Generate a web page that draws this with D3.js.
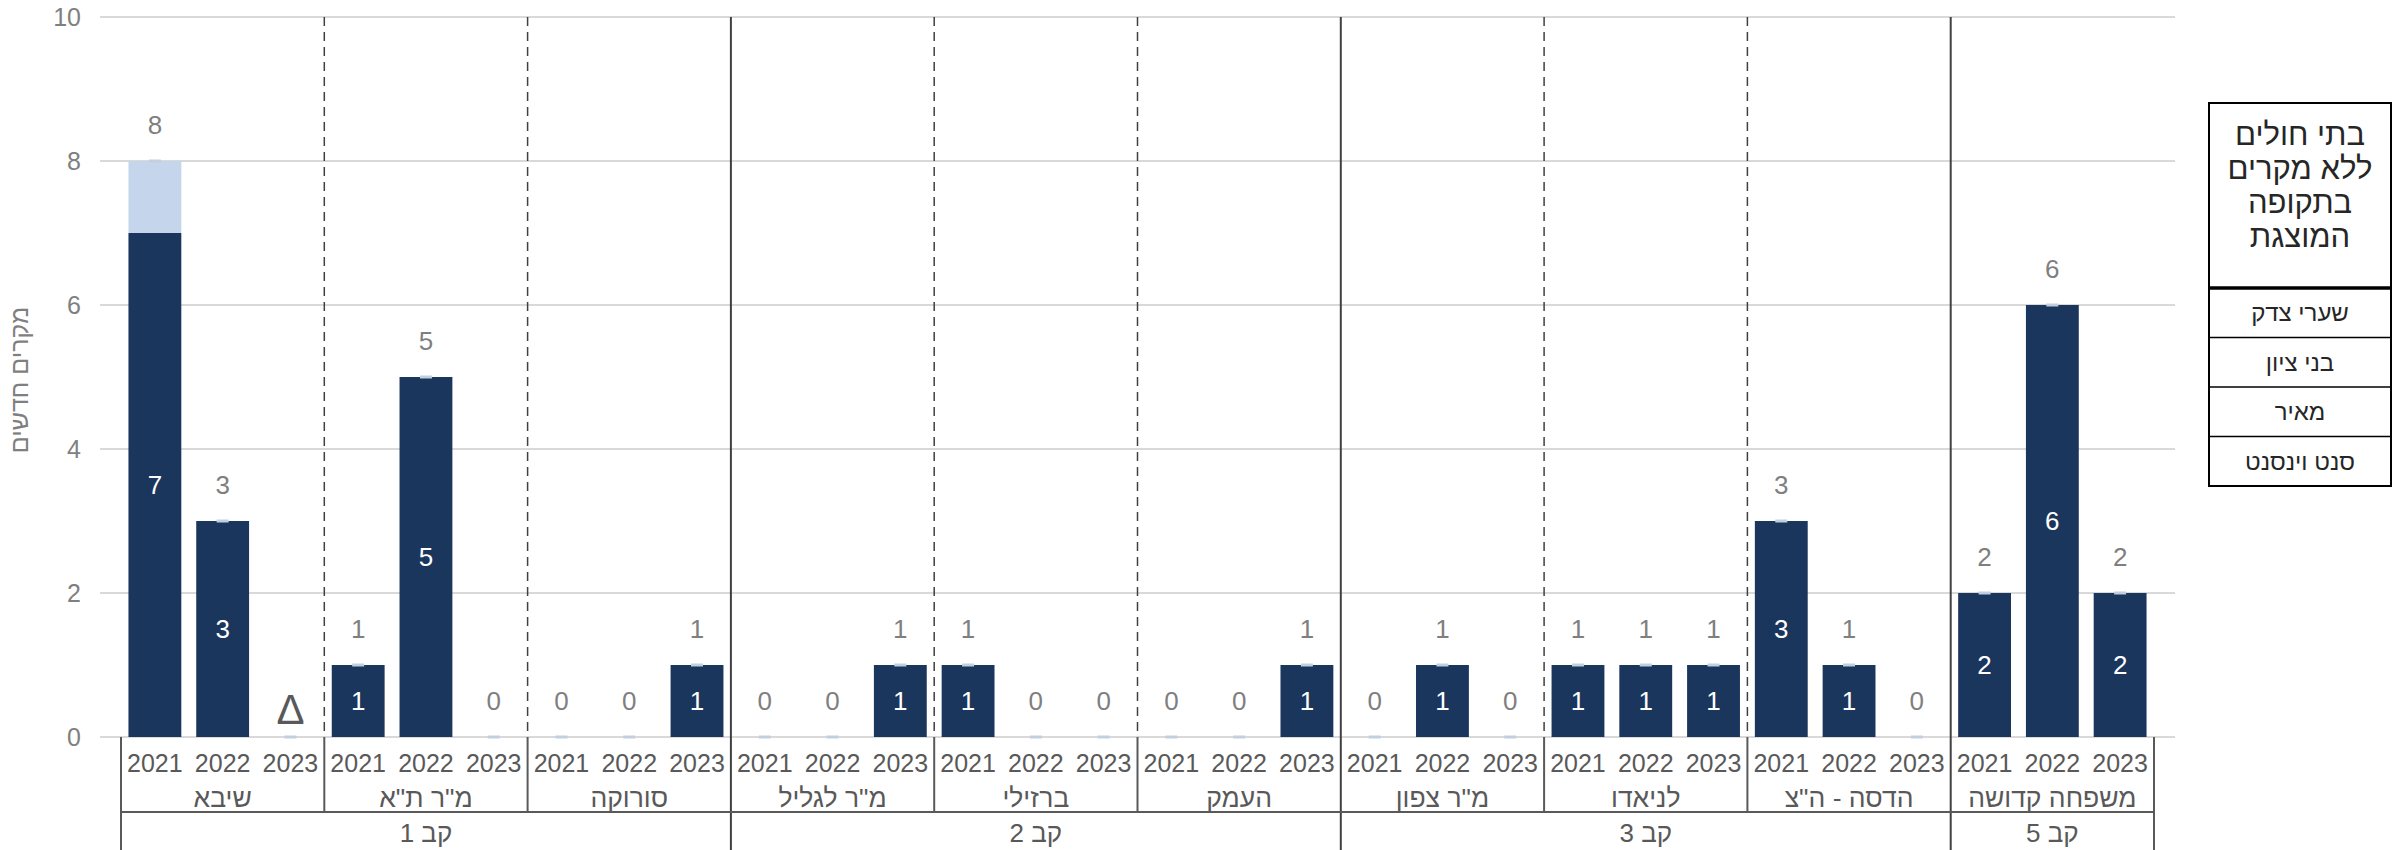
<!DOCTYPE html>
<html><head><meta charset="utf-8">
<script src="https://cdn.jsdelivr.net/npm/d3@7"></script>
<style>
body{margin:0;background:#fff}
svg{display:block}
text{font-family:"Liberation Sans",Arial,sans-serif}
</style>
</head><body>
<svg id="c" width="2397" height="850"></svg>
<script>
// ---- data ----
const years = ["2021", "2022", "2023"];
const hospitals = ["שיבא", "מ\"ר ת\"א", "סורוקה", "מ\"ר לגליל", "ברזילי", "העמק", "מ\"ר צפון", "לניאדו", "הדסה - ה\"צ", "משפחה קדושה"];
const cabs = ["קב 1", "קב 2", "קב 3", "קב 5"];
const cabSizes = [3, 3, 3, 1];
// per hospital × year (hospital-major order)
const darkValues  = [7,3,0, 1,5,0, 0,0,1, 0,0,1, 1,0,0, 0,0,1, 0,1,0, 1,1,1, 3,1,0, 2,6,2];
const lightValues = [1,0,0, 0,0,0, 0,0,0, 0,0,0, 0,0,0, 0,0,0, 0,0,0, 0,0,0, 0,0,0, 0,0,0];
const specialLabels = [null,null,"Δ", null,null,null, null,null,null, null,null,null, null,null,null, null,null,null, null,null,null, null,null,null, null,null,null, null,null,null];
const yTicks = [0, 2, 4, 6, 8, 10];
const yTitle = "מקרים חדשים";
const legendTitle = ["בתי חולים", "ללא מקרים", "בתקופה", "המוצגת"];
const legendItems = ["שערי צדק", "בני ציון", "מאיר", "סנט וינסנט"];

// ---- layout ----
const svg = d3.select("#c");
const X0 = 121, X1 = 2154, Y0 = 737, YT = 17;
const dark = "#1b365d", light = "#c5d6ec";
const rows = [];
hospitals.forEach((h, hi) => years.forEach((yr, yi) => {
  const i = hi * 3 + yi;
  rows.push({key: hi + "|" + yr, hi, yr, d: darkValues[i], l: lightValues[i], special: specialLabels[i]});
}));

const x = d3.scaleBand().domain(rows.map(r => r.key)).range([X0, X1]).paddingInner(0.22).paddingOuter(0.11);
const y = d3.scaleLinear().domain([0, 10]).range([Y0, YT]);
const step = x.step();

// gridlines
svg.append("g").selectAll("line").data(yTicks).join("line")
  .attr("x1", 100).attr("x2", 2175)
  .attr("y1", d => y(d)).attr("y2", d => y(d))
  .attr("stroke", "#d9d9d9").attr("stroke-width", 2);

// y axis tick labels via d3 axis
const yAxis = svg.append("g").attr("transform", "translate(100,0)")
  .call(d3.axisLeft(y).tickValues(yTicks).tickSize(0).tickPadding(19));
yAxis.select(".domain").remove();
yAxis.selectAll("text").attr("font-size", 25).attr("fill", "#7f7f7f")
  .style("font-family", "'Liberation Sans',Arial,sans-serif");

// y title
svg.append("text").attr("transform", "translate(28,380) rotate(-90)")
  .attr("text-anchor", "middle").attr("direction", "rtl")
  .attr("font-size", 25).attr("fill", "#7f7f7f").text(yTitle);

// bars
const bars = svg.append("g");
bars.selectAll("rect.dk").data(rows).join("rect").attr("class", "dk")
  .attr("x", d => x(d.key)).attr("width", x.bandwidth())
  .attr("y", d => y(d.d)).attr("height", d => y(0) - y(d.d)).attr("fill", dark);
bars.selectAll("rect.lt").data(rows).join("rect").attr("class", "lt")
  .attr("x", d => x(d.key)).attr("width", x.bandwidth())
  .attr("y", d => y(d.d + d.l)).attr("height", d => y(d.d) - y(d.d + d.l)).attr("fill", light);

// small top markers
bars.selectAll("line.mk").data(rows).join("line").attr("class", "mk")
  .attr("x1", d => x(d.key) + x.bandwidth() / 2 - 6).attr("x2", d => x(d.key) + x.bandwidth() / 2 + 6)
  .attr("y1", d => y(d.d + d.l)).attr("y2", d => y(d.d + d.l))
  .attr("stroke", "#c3cfdf").attr("stroke-width", 3);

// inside labels
svg.append("g").selectAll("text").data(rows.filter(r => r.d > 0)).join("text")
  .attr("x", d => x(d.key) + x.bandwidth() / 2)
  .attr("y", d => (y(0) + y(d.d)) / 2).attr("dy", "0.36em")
  .attr("text-anchor", "middle").attr("font-size", 26).attr("fill", "#ffffff")
  .text(d => d.d);

// top (total) labels
svg.append("g").selectAll("text").data(rows).join("text")
  .attr("x", d => x(d.key) + x.bandwidth() / 2)
  .attr("y", d => d.special ? y(0) - 28 : y(d.d + d.l) - 36).attr("dy", "0.36em")
  .attr("text-anchor", "middle")
  .attr("font-size", d => d.special ? 42 : 26)
  .attr("font-weight", d => d.special ? 300 : null)
  .attr("fill", d => d.special ? "#595959" : "#7f7f7f")
  .text(d => d.special ? d.special : d.d + d.l);

// separators
const groupW = step * 3;
const cabEnds = [];
cabSizes.reduce((a, s) => { cabEnds.push(a + s); return a + s; }, 0);
const sep = svg.append("g");
for (let i = 1; i < hospitals.length; i++) {
  const xx = X0 + i * groupW;
  if (cabEnds.includes(i)) {
    sep.append("line").attr("x1", xx).attr("x2", xx).attr("y1", YT).attr("y2", 850)
      .attr("stroke", "#404040").attr("stroke-width", 2);
  } else {
    sep.append("line").attr("x1", xx).attr("x2", xx).attr("y1", YT).attr("y2", Y0)
      .attr("stroke", "#404040").attr("stroke-width", 1.5).attr("stroke-dasharray", "9,6");
    sep.append("line").attr("x1", xx).attr("x2", xx).attr("y1", Y0).attr("y2", 812)
      .attr("stroke", "#595959").attr("stroke-width", 2);
  }
}
// axis box edges
[X0, X1].forEach(xx => sep.append("line").attr("x1", xx).attr("x2", xx).attr("y1", Y0).attr("y2", 850)
  .attr("stroke", "#595959").attr("stroke-width", 2));
sep.append("line").attr("x1", X0).attr("x2", X1).attr("y1", 812).attr("y2", 812)
  .attr("stroke", "#595959").attr("stroke-width", 2);

// year labels
svg.append("g").selectAll("text").data(rows).join("text")
  .attr("x", d => x(d.key) + x.bandwidth() / 2).attr("y", 763).attr("dy", "0.36em")
  .attr("text-anchor", "middle").attr("font-size", 25).attr("fill", "#595959").text(d => d.yr);

// hospital labels
svg.append("g").selectAll("text").data(hospitals).join("text")
  .attr("x", (d, i) => X0 + (i + 0.5) * groupW).attr("y", 797).attr("dy", "0.36em")
  .attr("text-anchor", "middle").attr("direction", "rtl")
  .attr("font-size", 26.5).attr("fill", "#595959").text(d => d);

// cab labels
let acc = 0;
const cabPos = cabSizes.map(s => { const c = X0 + (acc + s / 2) * groupW; acc += s; return c; });
svg.append("g").selectAll("text").data(cabs).join("text")
  .attr("x", (d, i) => cabPos[i]).attr("y", 833).attr("dy", "0.36em")
  .attr("text-anchor", "middle").attr("direction", "rtl")
  .attr("font-size", 26).attr("fill", "#595959").text(d => d);

// legend box
const L = svg.append("g");
const lx0 = 2209, lx1 = 2391, ly0 = 103, lyH = 288, rowH = 49.5;
L.append("rect").attr("x", lx0).attr("y", ly0).attr("width", lx1 - lx0).attr("height", lyH - ly0 + rowH * legendItems.length)
  .attr("fill", "#fff").attr("stroke", "#000").attr("stroke-width", 2);
L.append("line").attr("x1", lx0).attr("x2", lx1).attr("y1", lyH).attr("y2", lyH)
  .attr("stroke", "#000").attr("stroke-width", 3.5);
legendTitle.forEach((t, i) => L.append("text").attr("x", (lx0 + lx1) / 2).attr("y", 134 + i * 34)
  .attr("dy", "0.36em").attr("text-anchor", "middle").attr("direction", "rtl")
  .attr("font-size", 31).attr("fill", "#262626").text(t));
legendItems.forEach((t, i) => {
  if (i > 0) L.append("line").attr("x1", lx0).attr("x2", lx1)
    .attr("y1", lyH + i * rowH).attr("y2", lyH + i * rowH).attr("stroke", "#000").attr("stroke-width", 1.5);
  L.append("text").attr("x", (lx0 + lx1) / 2).attr("y", lyH + (i + 0.5) * rowH)
    .attr("dy", "0.36em").attr("text-anchor", "middle").attr("direction", "rtl")
    .attr("font-size", 24).attr("fill", "#262626").text(t);
});
</script>
</body></html>
